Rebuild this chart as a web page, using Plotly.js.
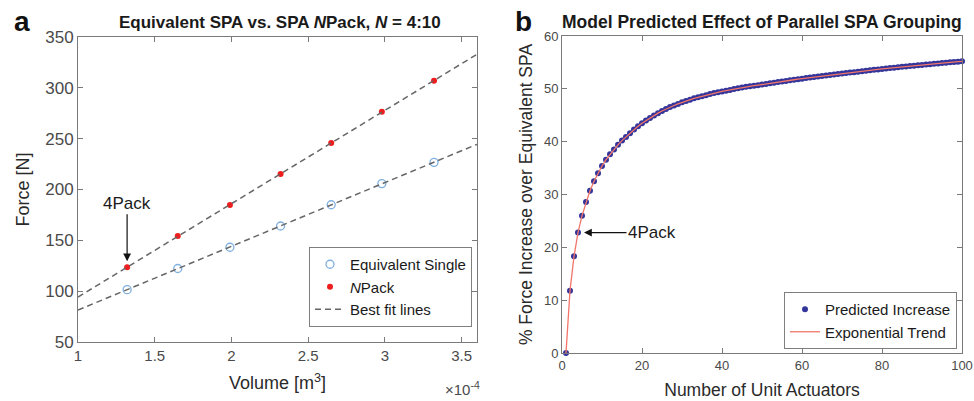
<!DOCTYPE html>
<html>
<head>
<meta charset="utf-8">
<script src="https://cdn.plot.ly/plotly-3.0.1.min.js"></script>
<style>html,body{margin:0;padding:0;background:#fff;}#chart{width:974px;height:401px;}</style>
</head>
<body>
<div id="chart"></div>
<script>
// ---------- Panel a data (volume in units of 1e-4 m^3) ----------
const volume = [1.32, 1.65, 1.99, 2.32, 2.65, 2.98, 3.32];
const equivalentSingle = [101.5, 122.3, 143.2, 164.1, 185.0, 205.8, 226.7];
const nPack = [123.5, 154.2, 184.8, 215.3, 245.8, 276.4, 307.0];
const volumeTicks = [1, 1.5, 2, 2.5, 3, 3.5];
const forceTicks = [50, 100, 150, 200, 250, 300, 350];

// ---------- Panel b data ----------
const predictedIncrease = [
  0, 11.8, 18.3, 22.8, 26.0, 28.6, 30.7, 32.5, 34.0, 35.4,
  36.6, 37.6, 38.5, 39.4, 40.2, 40.9, 41.6, 42.3, 42.9, 43.5,
  44.0, 44.5, 44.95, 45.4, 45.8, 46.2, 46.55, 46.85, 47.15, 47.45,
  47.7, 47.95, 48.2, 48.4, 48.6, 48.8, 49.0, 49.2, 49.35, 49.5,
  49.65, 49.8, 49.95, 50.1, 50.25, 50.4, 50.5, 50.6, 50.7, 50.8,
  50.92, 51.04, 51.16, 51.28, 51.39, 51.5, 51.61, 51.72, 51.83, 51.93,
  52.03, 52.13, 52.23, 52.33, 52.43, 52.53, 52.62, 52.71, 52.8, 52.89,
  52.98, 53.07, 53.16, 53.25, 53.34, 53.43, 53.52, 53.6, 53.68, 53.76,
  53.84, 53.92, 54.0, 54.08, 54.16, 54.24, 54.32, 54.39, 54.46, 54.53,
  54.6, 54.67, 54.74, 54.81, 54.88, 54.95, 55.02, 55.08, 55.14, 55.2
];
const unitActuators = predictedIncrease.map((_, i) => i + 1);
const actuatorTicks = [0, 20, 40, 60, 80, 100];
const percentTicks = [0, 10, 20, 30, 40, 50, 60];

// least-squares best fit line evaluated over the axis range
const xRangeA = [1, 3.6];
function fitLine(x, y) {
  const n = x.length;
  const mx = x.reduce((a, b) => a + b, 0) / n;
  const my = y.reduce((a, b) => a + b, 0) / n;
  let sxy = 0, sxx = 0;
  for (let i = 0; i < n; i++) { sxy += (x[i] - mx) * (y[i] - my); sxx += (x[i] - mx) ** 2; }
  const m = sxy / sxx, b = my - m * mx;
  return xRangeA.map(v => m * v + b);
}

const FONT = '"Liberation Sans", Arial, Helvetica, sans-serif';
const AX = '#7a7a7a', TICKC = '#4a4a4a', TITLEC = '#2a2a2a';

// pixel -> paper helpers (plot area: left 78, right 962, top 36, bottom 353)
const L = 78, R = 962, T = 36, B = 353;
const px = v => (v - L) / (R - L);
const py = v => (B - v) / (B - T);

const traces = [
  { x: volume, y: equivalentSingle, type: 'scatter', mode: 'markers', name: 'Equivalent Single',
    marker: { symbol: 'circle-open', size: 8, color: '#7fb0e0', line: { width: 1.3 } },
    xaxis: 'x', yaxis: 'y', legend: 'legend', cliponaxis: false },
  { x: volume, y: nPack, type: 'scatter', mode: 'markers', name: '<i>N</i>Pack',
    marker: { symbol: 'circle', size: 6, color: '#ee1c1c' },
    xaxis: 'x', yaxis: 'y', legend: 'legend', cliponaxis: false },
  { x: xRangeA, y: fitLine(volume, equivalentSingle), type: 'scatter', mode: 'lines', name: 'Best fit lines',
    line: { color: '#666666', width: 1.5, dash: '6px,4px' }, xaxis: 'x', yaxis: 'y', legend: 'legend' },
  { x: xRangeA, y: fitLine(volume, nPack), type: 'scatter', mode: 'lines', name: 'Best fit lines', showlegend: false,
    line: { color: '#666666', width: 1.5, dash: '6px,4px' }, xaxis: 'x', yaxis: 'y', legend: 'legend' },
  { x: unitActuators, y: predictedIncrease, type: 'scatter', mode: 'markers', name: 'Predicted Increase',
    marker: { symbol: 'circle', size: 6, color: '#33359a' },
    xaxis: 'x2', yaxis: 'y2', legend: 'legend2', cliponaxis: false },
  { x: unitActuators, y: predictedIncrease, type: 'scatter', mode: 'lines', name: 'Exponential Trend',
    line: { color: '#f2766a', width: 1.3 }, xaxis: 'x2', yaxis: 'y2', legend: 'legend2' }
];

const axisBase = {
  showline: true, linecolor: AX, linewidth: 1, mirror: 'ticks', ticks: 'inside', ticklen: 5,
  tickcolor: AX, showgrid: false, zeroline: false, color: TICKC, ticklabeloverflow: 'allow'
};

const layout = {
  width: 974, height: 401,
  margin: { l: L, r: 974 - R, t: T, b: 401 - B },
  paper_bgcolor: '#ffffff', plot_bgcolor: '#ffffff',
  font: { family: FONT, color: TICKC },
  showlegend: true,
  xaxis: Object.assign({}, axisBase, {
    domain: [0, px(477)], range: xRangeA, tickvals: volumeTicks,
    tickfont: { size: 15, color: TICKC },
    title: { text: 'Volume [m<sup>3</sup>]', font: { size: 18, color: TITLEC }, standoff: 13 }
  }),
  yaxis: Object.assign({}, axisBase, {
    domain: [py(342), py(37)], range: [50, 350], tickvals: forceTicks,
    tickfont: { size: 17, color: TICKC },
    title: { text: 'Force [N]', font: { size: 18, color: TITLEC }, standoff: 10 }
  }),
  xaxis2: Object.assign({}, axisBase, {
    domain: [px(562), 1], range: [0, 100], tickvals: actuatorTicks, anchor: 'y2',
    tickfont: { size: 13, color: TICKC },
    title: { text: 'Number of Unit Actuators', font: { size: 17.5, color: TITLEC }, standoff: 12 }
  }),
  yaxis2: Object.assign({}, axisBase, {
    domain: [0, 1], range: [0, 60], tickvals: percentTicks, anchor: 'x2',
    tickfont: { size: 13, color: TICKC },
    title: { text: '% Force Increase over Equivalent SPA', font: { size: 17.5, color: TITLEC }, standoff: 6 }
  }),
  legend: {
    x: px(472), xanchor: 'right', y: py(327), yanchor: 'bottom',
    bgcolor: '#ffffff', bordercolor: '#7f7f7f', borderwidth: 1,
    font: { size: 15, color: '#1a1a1a' }, itemwidth: 30, tracegroupgap: 0
  },
  legend2: {
    x: px(957), xanchor: 'right', y: py(349), yanchor: 'bottom',
    bgcolor: '#ffffff', bordercolor: '#7f7f7f', borderwidth: 1,
    font: { size: 15, color: '#1a1a1a' }, itemwidth: 30, tracegroupgap: 0
  },
  annotations: [
    { xref: 'paper', yref: 'paper', x: px(22), y: py(21), text: '<b>a</b>', showarrow: false,
      font: { size: 28, color: '#111' }, xanchor: 'center', yanchor: 'middle' },
    { xref: 'paper', yref: 'paper', x: px(523), y: py(21), text: '<b>b</b>', showarrow: false,
      font: { size: 28, color: '#111' }, xanchor: 'center', yanchor: 'middle' },
    { xref: 'paper', yref: 'paper', x: px(280), y: py(22), text: '<b>Equivalent SPA vs. SPA <i>N</i>Pack, <i>N</i> = 4:10</b>',
      showarrow: false, font: { size: 17, color: '#1a1a1a' }, xanchor: 'center', yanchor: 'middle' },
    { xref: 'paper', yref: 'paper', x: px(762), y: py(22), text: '<b>Model Predicted Effect of Parallel SPA Grouping</b>',
      showarrow: false, font: { size: 17.5, color: '#1a1a1a' }, xanchor: 'center', yanchor: 'middle' },
    { xref: 'paper', yref: 'paper', x: px(462), y: py(388), text: '×10<sup>-4</sup>', showarrow: false,
      font: { size: 15, color: TICKC }, xanchor: 'center', yanchor: 'middle' },
    { xref: 'x', yref: 'y', x: volume[0], y: nPack[0], text: '4Pack', showarrow: true,
      ax: 0, ay: -64, arrowhead: 2, arrowsize: 1.3, arrowwidth: 1.2, arrowcolor: '#111', standoff: 6,
      font: { size: 17, color: '#1a1a1a' } },
    { xref: 'x2', yref: 'y2', x: unitActuators[3], y: predictedIncrease[3], text: '4Pack', showarrow: true,
      ax: 74, ay: 0, arrowhead: 2, arrowsize: 1.3, arrowwidth: 1.2, arrowcolor: '#111', standoff: 6,
      font: { size: 17, color: '#1a1a1a' } }
  ]
};

Plotly.newPlot('chart', traces, layout, { displayModeBar: false, staticPlot: true });
</script>
</body>
</html>
